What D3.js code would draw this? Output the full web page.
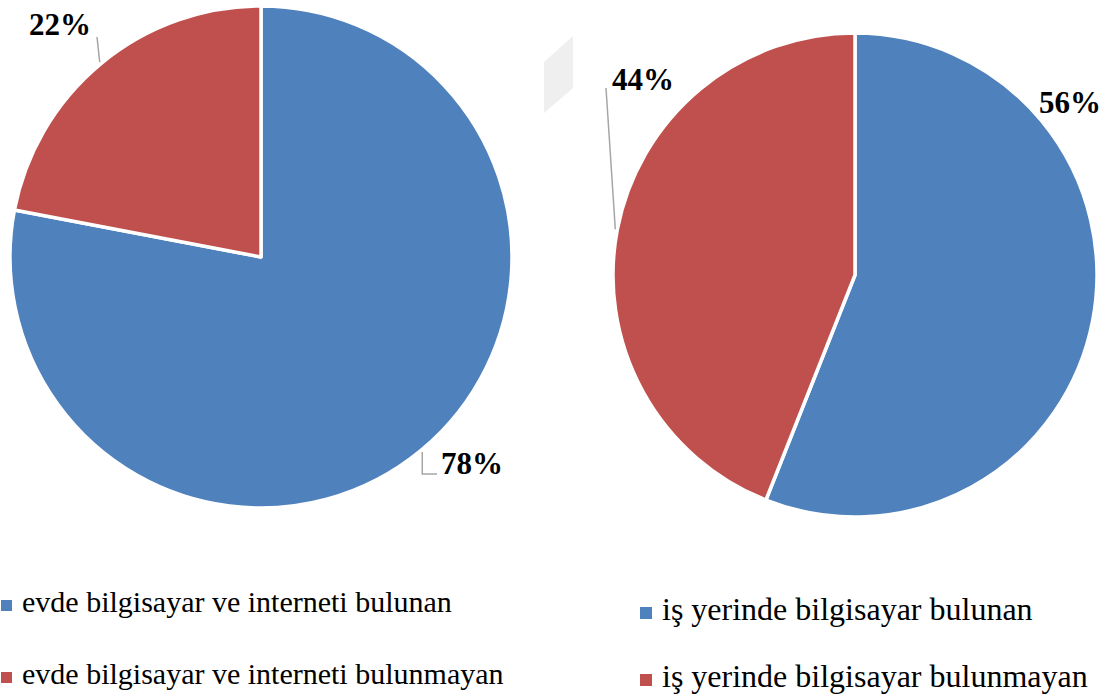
<!doctype html>
<html>
<head>
<meta charset="utf-8">
<style>
    body { margin: 0; background: #fff; }
</style>
<script src="https://cdn.jsdelivr.net/npm/d3@7/dist/d3.min.js"></script>
</head>
<body>
<svg width="1117" height="699"></svg>
<script>
// data
var homeLabels = ["evde bilgisayar ve interneti bulunan", "evde bilgisayar ve interneti bulunmayan"];
var homeValues = [78, 22];
var workLabels = ["iş yerinde bilgisayar bulunan", "iş yerinde bilgisayar bulunmayan"];
var workValues = [56, 44];
var colors = ["#4F81BD", "#C0504D"];

var FONT = "Liberation Serif";

var svg = d3.select("svg");

// faint leftover shape between the two pies
svg.append("polygon")
   .attr("points", "544,62 573,36 573,88 544,113")
   .attr("fill", "#efefef");

var pie = d3.pie().sort(null).value(function(d) { return d; });

function drawPie(values, cx, cy, r, labelPos) {
    var g = svg.append("g").attr("transform", "translate(" + cx + "," + cy + ")");
    var arc = d3.arc().innerRadius(0).outerRadius(r);
    var arcs = pie(values);

    g.selectAll("path")
     .data(arcs)
     .enter().append("path")
     .attr("d", arc)
     .attr("fill", function(d, i) { return colors[i]; })
     .attr("stroke", "#fff")
     .attr("stroke-width", 3.5)
     .attr("stroke-linejoin", "round");

    arcs.forEach(function(d, i) {
        var lp = labelPos[i];
        var mid = (d.startAngle + d.endAngle) / 2;
        var ex = Math.sin(mid) * (r + 2), ey = -Math.cos(mid) * (r + 2);
        if (lp.leader) {
            var pts = lp.leader === "elbow"
                ? [[ex, ey], [ex, lp.ly], [lp.lx, lp.ly]]
                : [[ex, ey], [lp.lx, lp.ly]];
            g.append("path")
             .attr("d", d3.line()(pts))
             .attr("fill", "none")
             .attr("stroke", "#a6a6a6")
             .attr("stroke-width", 1.5);
        }
        g.append("text")
         .attr("x", lp.x)
         .attr("y", lp.y)
         .attr("font-family", FONT)
         .attr("font-size", "31px")
         .attr("font-weight", "bold")
         .attr("fill", "#000")
         .text(d.data + "%");
    });
}

drawPie(homeValues, 261, 257, 251, [
    { x: 180, y: 217, leader: "elbow", lx: 176, ly: 217 },
    { x: -232, y: -222, leader: "line", lx: -164, ly: -220 }
]);
drawPie(workValues, 855, 275, 242, [
    { x: 184, y: -162, leader: null },
    { x: -243, y: -185, leader: "line", lx: -249, ly: -187 }
]);

function drawLegend(labels, x, ys, size, fs) {
    var g = svg.append("g");
    labels.forEach(function(t, i) {
        g.append("rect")
         .attr("x", x)
         .attr("y", ys[i] - size - 1)
         .attr("width", size)
         .attr("height", size)
         .attr("fill", colors[i]);
        g.append("text")
         .attr("x", x + size + 10)
         .attr("y", ys[i])
         .attr("font-family", FONT)
         .attr("font-size", fs)
         .attr("fill", "#000")
         .text(t);
    });
}

drawLegend(homeLabels, 1, [612, 684], 11, "30px");
drawLegend(workLabels, 640, [620, 687], 12, "32px");
</script>
</body>
</html>
